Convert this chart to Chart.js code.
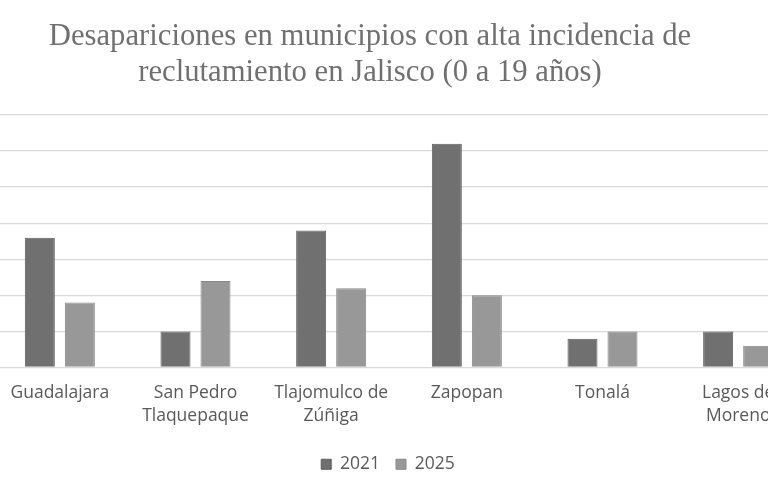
<!DOCTYPE html>
<html lang="es">
<head>
<meta charset="utf-8">
<script src="https://cdn.jsdelivr.net/npm/chart.js@4.4.1/dist/chart.umd.min.js"></script>
<style>
  html, body { margin: 0; padding: 0; background: #ffffff; overflow: hidden; }
  body { width: 768px; height: 500px; position: relative; }
  /* el gráfico original está recortado a los lados: el lienzo es más ancho que la ventana */
  #marco { position: absolute; left: -66px; top: 0; width: 872px; height: 500px; }
</style>
</head>
<body>
<div id="marco"><canvas id="graficoDesapariciones"></canvas></div>
<script>
// Municipios (etiquetas del eje X, partidas en dos líneas como en el original)
const municipios = [
    'Guadalajara',
    ['San Pedro', 'Tlaquepaque'],
    ['Tlajomulco de', 'Zúñiga'],
    'Zapopan',
    'Tonalá',
    ['Lagos de', 'Moreno']
];

// Valores
const valores2021 = [18, 5, 19, 31, 4, 5];
const valores2025 = [9, 12, 11, 10, 5, 3];

// Escala vertical (las etiquetas quedan fuera del recorte)
const ejeYMin = 0;
const ejeYMax = 35;
const ejeYPaso = 5;

const colorTexto = '#595959';
const colorTitulo = '#707070';
const colorRejilla = '#d9d9d9';

const ctx = document.getElementById('graficoDesapariciones').getContext('2d');

// Corre la leyenda un poco a la izquierda, como en el original
const ajusteLeyenda = {
    id: 'ajusteLeyenda',
    beforeDraw(chart) {
        const leyenda = chart.legend;
        if (leyenda && !leyenda._corrida) {
            leyenda.left -= 11;
            leyenda.right -= 11;
            leyenda._corrida = true;
        }
    },
    afterLayout(chart) {
        if (chart.legend) chart.legend._corrida = false;
    }
};

const datos = {
    labels: municipios,
    datasets: [{
        label: '2021',
        data: valores2021,
        backgroundColor: '#707070',
        borderColor: '#5e5e5e',
        borderWidth: 1,
        barPercentage: 0.75,
        categoryPercentage: 0.59
    }, {
        label: '2025',
        data: valores2025,
        backgroundColor: '#989898',
        borderColor: '#888888',
        borderWidth: 1,
        barPercentage: 0.75,
        categoryPercentage: 0.59
    }]
};

const configuracion = {
    type: 'bar',
    data: datos,
    plugins: [ajusteLeyenda],
    options: {
        responsive: true,
        maintainAspectRatio: false,
        animation: false,
        layout: {
            padding: { left: 0, right: 0, top: 0, bottom: 17 }
        },
        scales: {
            x: {
                grid: { display: false, drawTicks: false },
                border: { display: false },
                ticks: {
                    color: colorTexto,
                    font: { family: 'Open Sans', size: 17.5, lineHeight: 1.3 },
                    padding: 14,
                    maxRotation: 0,
                    autoSkip: false
                },
                afterFit(escala) {
                    escala.height = 72;
                }
            },
            y: {
                min: ejeYMin,
                max: ejeYMax,
                ticks: { stepSize: ejeYPaso, display: false },
                grid: { color: colorRejilla, lineWidth: 1.3, drawTicks: false },
                border: { display: false },
                afterFit(escala) {
                    escala.width = 58;
                }
            }
        },
        plugins: {
            title: {
                display: true,
                text: ['Desapariciones en municipios con alta incidencia de',
                       'reclutamiento en Jalisco (0 a 19 años)'],
                color: colorTitulo,
                font: { family: 'Liberation Serif', size: 30.7, weight: 'normal', lineHeight: '36px' },
                padding: { top: 19, bottom: 24 }
            },
            legend: {
                display: true,
                position: 'bottom',
                fullSize: false,
                labels: {
                    color: colorTexto,
                    font: { family: 'Open Sans', size: 17.5 },
                    boxWidth: 10,
                    boxHeight: 10,
                    padding: 16
                }
            },
            tooltip: { enabled: false }
        }
    }
};

const grafico = new Chart(ctx, configuracion);
</script>
</body>
</html>
